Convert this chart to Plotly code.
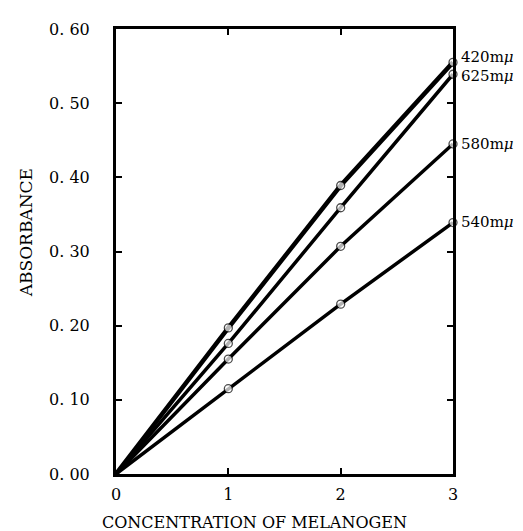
import plotly.graph_objects as go

concentration = [0, 1, 2, 3]
a420 = [0.0, 0.197, 0.389, 0.555]
a625 = [0.0, 0.176, 0.359, 0.539]
a580 = [0.0, 0.155, 0.307, 0.445]
a540 = [0.0, 0.115, 0.229, 0.339]
series = [("420m<i>μ</i>", a420, 4.5), ("625m<i>μ</i>", a625, 3.5),
          ("580m<i>μ</i>", a580, 3.5), ("540m<i>μ</i>", a540, 3.5)]
label_shift = [5, -2, 0, 1]

yticks = [0.0, 0.1, 0.2, 0.3, 0.4, 0.5, 0.6]
yticktext = ["0. 00", "0. 10", "0. 20", "0. 30", "0. 40", "0. 50", "0. 60"]
xticks = [0, 1, 2, 3]
xticktext = ["0", "1", "2", "3"]

FONT = "DejaVu Serif"
fig = go.Figure()
for name, vals, w in series:
    fig.add_trace(go.Scatter(
        x=concentration, y=vals, mode="lines+markers",
        line=dict(color="black", width=w),
        marker=dict(size=[0, 8, 8, 8], color="white",
                    line=dict(color="black", width=1.3)),
        cliponaxis=False, showlegend=False, hoverinfo="skip"))
for (name, vals, w), sh in zip(series, label_shift):
    fig.add_annotation(x=concentration[-1], y=vals[-1], text=name,
                       xanchor="left", yanchor="middle", xshift=6,
                       yshift=sh, showarrow=False,
                       font=dict(family=FONT, size=15, color="black"))

fig.add_annotation(x=0.412, y=-0.108, xref="paper", yref="paper",
                   xanchor="center", yanchor="middle",
                   text="CONCENTRATION OF MELANOGEN", showarrow=False,
                   font=dict(family=FONT, size=16, color="black"))
fig.add_annotation(x=-0.267, y=0.541, xref="paper", yref="paper",
                   xanchor="center", yanchor="middle",
                   text="ABSORBANCE", showarrow=False, textangle=-90,
                   font=dict(family=FONT, size=17, color="black"))

axis_common = dict(showgrid=False, zeroline=False, showline=True,
                   linecolor="black", linewidth=3, mirror="ticks",
                   ticks="inside", ticklen=6, tickwidth=2, tickcolor="black")
fig.update_xaxes(range=[0, 3], tickvals=xticks, ticktext=xticktext,
                 ticklabelstandoff=4,
                 tickfont=dict(family=FONT, size=16, color="black"),
                 **axis_common)
fig.update_yaxes(range=[0, 0.6], tickvals=yticks, ticktext=yticktext,
                 ticklabelstandoff=20,
                 tickfont=dict(family=FONT, size=16, color="black"),
                 **axis_common)

fig.update_layout(width=515, height=523,
                  margin=dict(l=108, r=70, t=17, b=57),
                  plot_bgcolor="white", paper_bgcolor="white")
fig.write_html("out.html")
